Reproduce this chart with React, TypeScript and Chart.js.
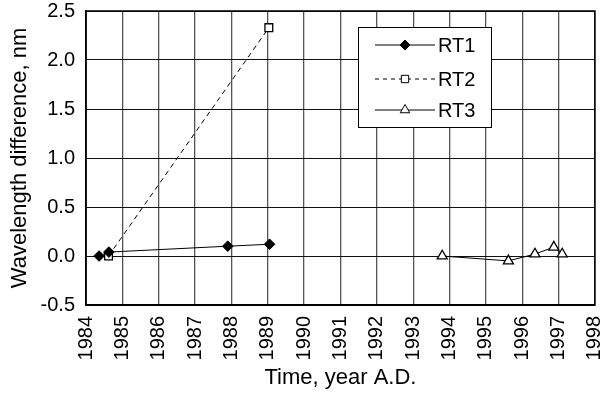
import React, { useEffect, useRef } from 'react';
import { Chart, registerables } from 'chart.js';

Chart.register(...registerables);

// ---- data ----
const seriesNames = ['RT1', 'RT2', 'RT3'];
const rt1Years = [1984.36, 1984.63, 1987.9, 1989.05];
const rt1Values = [0.0, 0.04, 0.1, 0.12];
const rt2Years = [1984.62, 1989.03];
const rt2Values = [0.0, 2.33];
const rt3Years = [1993.8, 1995.62, 1996.35, 1996.87, 1997.1];
const rt3Values = [0.0, -0.05, 0.02, 0.09, 0.02];
const xTickYears = [1984, 1985, 1986, 1987, 1988, 1989, 1990, 1991, 1992, 1993, 1994, 1995, 1996, 1997, 1998];
const yTickValues = [-0.5, 0.0, 0.5, 1.0, 1.5, 2.0, 2.5];
const xTitle = 'Time, year A.D.';
const yTitle = 'Wavelength difference, nm';

const FONT = '"Liberation Sans", Arial, Helvetica, sans-serif';
const TICK_FS = 20;
const TITLE_FS = 22;
const LEGEND_FS = 20;

function toPoints(xs: number[], ys: number[]) {
  return xs.map((x, i) => ({ x, y: ys[i] }));
}

function drawMarker(ctx: CanvasRenderingContext2D, style: string, cx: number, cy: number, r: number, fill: string) {
  ctx.save();
  ctx.setLineDash([]);
  ctx.beginPath();
  if (style === 'rectRot') {
    ctx.moveTo(cx, cy - r);
    ctx.lineTo(cx + r, cy);
    ctx.lineTo(cx, cy + r);
    ctx.lineTo(cx - r, cy);
    ctx.closePath();
  } else if (style === 'rect') {
    const s = Math.SQRT1_2 * r;
    ctx.rect(cx - s, cy - s, 2 * s, 2 * s);
  } else {
    const h = r * 1.5;
    const w = r * Math.sqrt(3);
    ctx.moveTo(cx, cy - r);
    ctx.lineTo(cx + w / 2, cy - r + h);
    ctx.lineTo(cx - w / 2, cy - r + h);
    ctx.closePath();
  }
  ctx.fillStyle = fill;
  ctx.fill();
  ctx.strokeStyle = '#000';
  ctx.lineWidth = 1;
  ctx.stroke();
  ctx.restore();
}

const boxLegend = {
  id: 'boxLegend',
  afterDraw(chart: any) {
    const ctx: CanvasRenderingContext2D = chart.ctx;
    const area = chart.chartArea;
    const bx = area.left + 272;
    const by = area.top + 16;
    const bw = 133;
    const bh = 100;
    ctx.save();
    ctx.fillStyle = '#fff';
    ctx.fillRect(bx, by, bw, bh);
    ctx.strokeStyle = '#000';
    ctx.lineWidth = 1;
    ctx.strokeRect(bx + 0.5, by + 0.5, bw, bh);
    const rows = [18, 52, 83];
    chart.data.datasets.forEach((ds: any, i: number) => {
      const yy = by + rows[i];
      const x0 = bx + 17;
      const x1 = bx + 77;
      ctx.beginPath();
      ctx.setLineDash(ds.borderDash ? [4, 4] : []);
      ctx.strokeStyle = '#000';
      ctx.lineWidth = 1;
      ctx.moveTo(x0, yy);
      ctx.lineTo(x1, yy);
      ctx.stroke();
      ctx.setLineDash([]);
      drawMarker(ctx, ds.pointStyle, (x0 + x1) / 2, yy, ds.pointRadius - 0.3, ds.pointBackgroundColor);
      ctx.fillStyle = '#000';
      ctx.font = `${LEGEND_FS}px ${FONT}`;
      ctx.textBaseline = 'middle';
      ctx.textAlign = 'left';
      ctx.fillText(ds.label, x1 + 3, yy + 1);
    });
    // frame of the plot area
    ctx.strokeStyle = '#000';
    ctx.lineWidth = 1.5;
    ctx.strokeRect(area.left, area.top, area.right - area.left, area.bottom - area.top);
    ctx.restore();
  },
};

export default function App() {
  const ref = useRef<HTMLCanvasElement | null>(null);

  useEffect(() => {
    document.body.style.margin = '0';
    if (!ref.current) return;
    const chart = new Chart(ref.current, {
      type: 'line',
      data: {
        datasets: [
          {
            label: seriesNames[0],
            data: toPoints(rt1Years, rt1Values),
            borderColor: '#000',
            borderWidth: 1,
            pointStyle: 'rectRot',
            pointRadius: 5.3,
            pointBackgroundColor: '#000',
            pointBorderColor: '#000',
            pointBorderWidth: 1,
            tension: 0,
          },
          {
            label: seriesNames[1],
            data: toPoints(rt2Years, rt2Values),
            borderColor: '#000',
            borderWidth: 1,
            borderDash: [5, 4],
            pointStyle: 'rect',
            pointRadius: 5.5,
            pointBackgroundColor: '#fff',
            pointBorderColor: '#000',
            pointBorderWidth: 1.3,
            tension: 0,
          },
          {
            label: seriesNames[2],
            data: toPoints(rt3Years, rt3Values),
            borderColor: '#000',
            borderWidth: 1,
            pointStyle: 'triangle',
            pointRadius: 5.8,
            pointBackgroundColor: '#fff',
            pointBorderColor: '#000',
            pointBorderWidth: 1.3,
            tension: 0,
          },
        ],
      },
      options: {
        responsive: false,
        animation: false,
        parsing: false as any,
        layout: { padding: { left: 0, top: 11, right: 4, bottom: 0 } },
        plugins: {
          legend: { display: false },
          tooltip: { enabled: false },
        },
        scales: {
          x: {
            type: 'linear',
            min: xTickYears[0],
            max: xTickYears[xTickYears.length - 1],
            afterBuildTicks: (scale: any) => {
              scale.ticks = xTickYears.map((v) => ({ value: v }));
            },
            afterFit: (scale: any) => {
              scale.height = 88;
              scale.paddingLeft = 0;
              scale.paddingRight = 0;
            },
            ticks: {
              autoSkip: false,
              minRotation: 90,
              maxRotation: 90,
              padding: 11,
              color: '#000',
              font: { family: FONT, size: TICK_FS },
              callback: (v: any) => String(v),
            },
            grid: { color: '#555', lineWidth: 1.3, drawTicks: false },
            border: { color: '#000', width: 1.5 },
            title: {
              display: true,
              text: xTitle,
              color: '#000',
              font: { family: FONT, size: TITLE_FS },
              padding: { top: 0, bottom: 2 },
            },
          },
          y: {
            type: 'linear',
            min: yTickValues[0],
            max: yTickValues[yTickValues.length - 1],
            afterBuildTicks: (scale: any) => {
              scale.ticks = yTickValues.map((v) => ({ value: v }));
            },
            afterFit: (scale: any) => {
              scale.width = 86;
              scale.paddingTop = 0;
              scale.paddingBottom = 0;
            },
            ticks: {
              padding: 11,
              color: '#000',
              font: { family: FONT, size: TICK_FS },
              callback: (v: any) => Number(v).toFixed(1),
            },
            grid: { color: '#111', lineWidth: 1, drawTicks: false },
            border: { color: '#000', width: 1.5 },
            title: {
              display: true,
              text: yTitle,
              color: '#000',
              font: { family: FONT, size: TITLE_FS },
              padding: { top: 7, bottom: 0 },
            },
          },
        },
      },
      plugins: [boxLegend],
    });
    return () => chart.destroy();
  }, []);

  return (
    <div style={{ position: 'absolute', left: 0, top: 0, width: 602, height: 393, background: '#fff' }}>
      <canvas ref={ref} width={602} height={393} style={{ width: 602, height: 393, display: 'block' }} />
    </div>
  );
}
